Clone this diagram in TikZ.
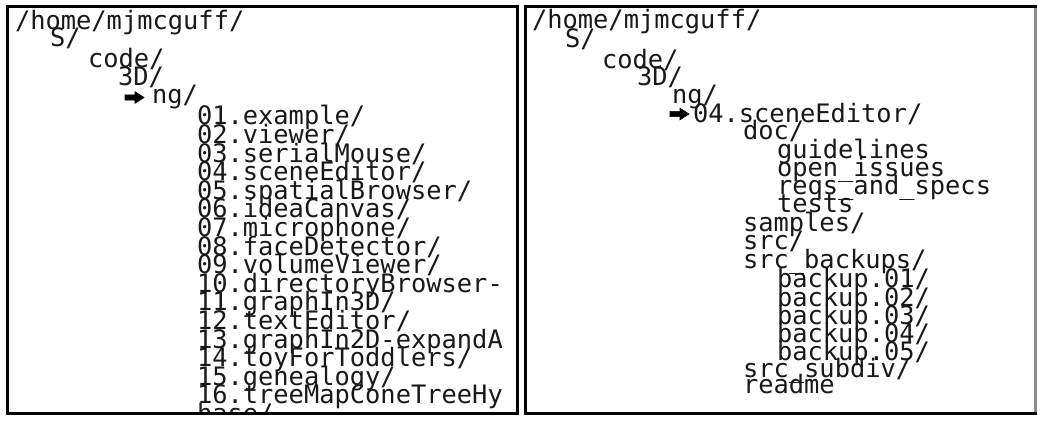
\documentclass[tikz,border=0pt]{standalone}
\usepackage{fontspec}
\setmonofont{DejaVu Sans Mono}
\begin{document}
\begin{tikzpicture}[x=1pt,y=-1pt,
  fl/.style={anchor=base west, inner sep=0pt, outer sep=0pt,
    font=\fontsize{25.4}{25.4}\selectfont\ttfamily, text=black!90},
  panel/.style={draw=black, line width=3pt},
  pointerfill/.style={fill=black, draw=black, line width=0.6pt, line join=miter}]
\useasboundingbox (0,0) rectangle (1044,423);
\fill[white] (0,0) rectangle (1044,423);

% ---------- left panel ----------
\begin{scope}
\clip (9,8) rectangle (516,412);
\node[fl] (lhome) at (15,29) {/home/mjmcguff/};
\node[fl] (lS) at (50,46) {S/};
\node[fl] (lcode) at (88,67) {code/};
\node[fl] (l3D) at (118,85) {3D/};
\node[fl] (lng) at (152,103) {ng/};
\foreach \t [count=\i from 0] in {01.example/,02.viewer/,03.serialMouse/,04.sceneEditor/,05.spatialBrowser/,06.ideaCanvas/,07.microphone/,08.faceDetector/,09.volumeViewer/,10.directoryBrowser-,11.graphIn3D/,12.textEditor/,13.graphIn2D-expandA,14.toyForToddlers/,15.genealogy/,16.treeMapConeTreeHy,hase/}
  \node[fl] (litem\i) at (197,124.8+18.6*\i) {\t};
\end{scope}
% pointer arrow (left)
\coordinate (la) at (125,97.5);
\fill[pointerfill] (la) ++(0,-2.6) -- ++(10,0) -- ++(0,-3.2) -- ++(9,5.8)
  -- ++(-9,5.8) -- ++(0,-3.2) -- ++(-10,0) -- cycle;
\draw[panel] (7.5,6.5) rectangle (517.5,413.5);

% ---------- right panel ----------
\node[fl] (rhome) at (532,28) {/home/mjmcguff/};
\node[fl] (rS) at (565,47) {S/};
\node[fl] (rcode) at (602,68) {code/};
\node[fl] (r3D) at (637,85) {3D/};
\node[fl] (rng) at (672,103) {ng/};
\node[fl] (rscene) at (693,122) {04.sceneEditor/};
\node[fl] (rdoc) at (743,139) {doc/};
\node[fl] (rguide) at (777,158) {guidelines};
\node[fl] (ropen) at (777,176) {open\_issues};
\node[fl] (rreqs) at (777,194) {reqs\_and\_specs};
\node[fl] (rtests) at (777,212) {tests};
\node[fl] (rsamples) at (743,231) {samples/};
\node[fl] (rsrc) at (743,249.5) {src/};
\node[fl] (rsrcb) at (743,268) {src\_backups/};
\node[fl] (rb1) at (777,287) {backup.01/};
\node[fl] (rb2) at (777,306) {backup.02/};
\node[fl] (rb3) at (777,324.5) {backup.03/};
\node[fl] (rb4) at (777,342.5) {backup.04/};
\node[fl] (rb5) at (777,360) {backup.05/};
\node[fl] (rsub) at (743,377) {src\_subdiv/};
\node[fl] (rread) at (743,393) {readme};
% pointer arrow (right)
\coordinate (ra) at (670,114);
\fill[pointerfill] (ra) ++(0,-2.6) -- ++(10,0) -- ++(0,-3.2) -- ++(9,5.8)
  -- ++(-9,5.8) -- ++(0,-3.2) -- ++(-10,0) -- cycle;
\draw[panel] (525.5,6.5) rectangle (1035.5,413.5);
\draw[line width=3pt, black!45] (1035.5,8) -- (1035.5,412);
\end{tikzpicture}
\end{document}
